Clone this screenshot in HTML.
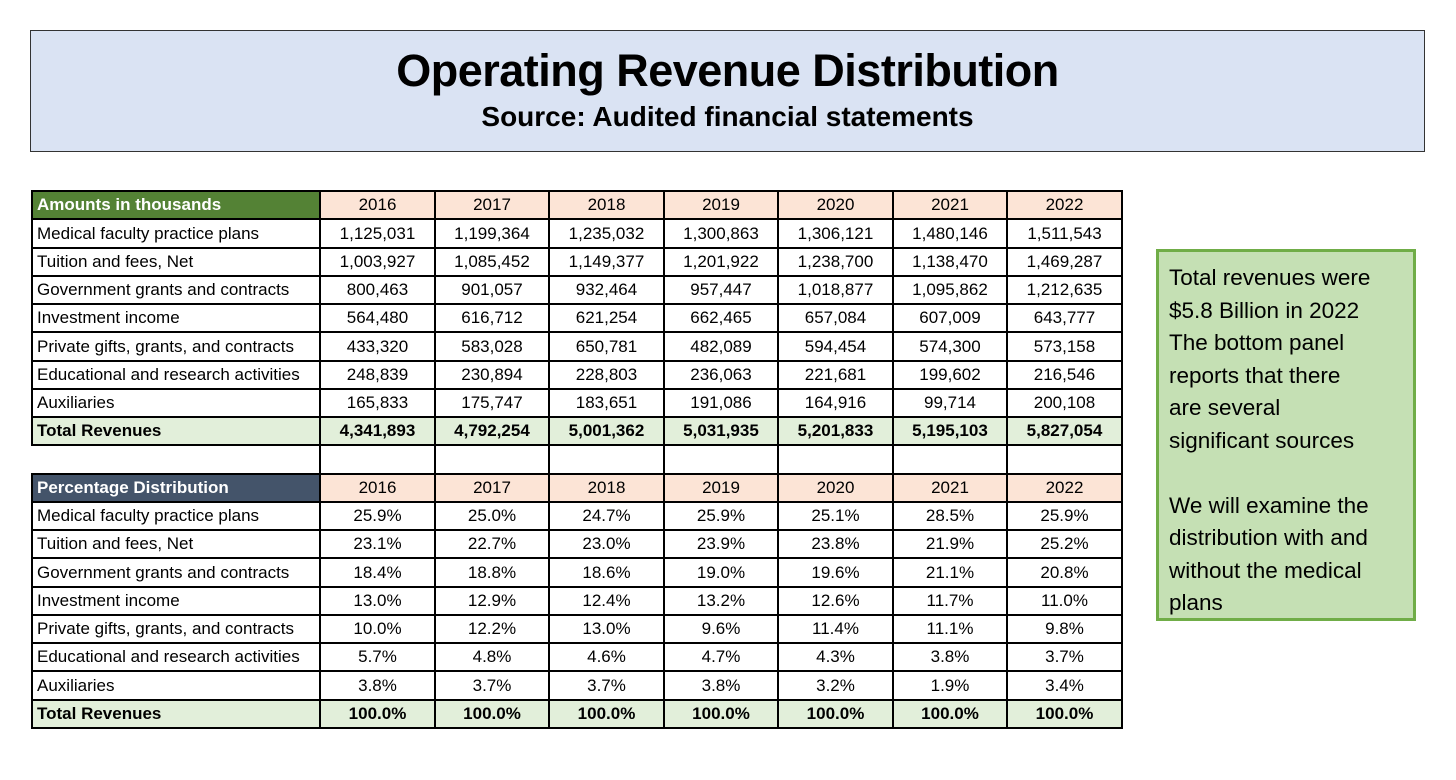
<!DOCTYPE html>
<html><head><meta charset="utf-8"><style>
body{margin:0;width:1456px;height:780px;background:#fff;position:relative;overflow:hidden;font-family:"Liberation Sans",sans-serif}
#title-box{position:absolute;left:30px;top:30px;width:1393px;height:120px;background:#dae3f3;border:1px solid #333;text-align:center}
#title-box h1{margin:14px 0 0;font-size:45px;font-weight:bold;letter-spacing:-0.5px}
#title-box h2{margin:4px 0 0;font-size:28px;font-weight:bold}
.c{position:absolute;box-sizing:border-box;border-right:2px solid #000;border-bottom:2px solid #000;font-size:17px;text-align:center;white-space:nowrap;overflow:hidden}
.l{text-align:left;padding-left:4px}
#note{position:absolute;left:1156px;top:249px;width:260px;height:372px;box-sizing:border-box;background:#c5e0b4;border:3px solid #70ad47;padding:10px 34px 10px 10px;font-size:22.5px;line-height:32.5px;color:#000}
</style></head><body>
<div id="title-box">
<h1>Operating Revenue Distribution</h1>
<h2>Source: Audited financial statements</h2>
</div>
<div id="tbl"></div>
<div id="note">Total revenues were $5.8 Billion in 2022 The bottom panel reports that there are several significant sources<br><br>We will examine the distribution with and without the medical plans</div>
<script>
const years=["2016","2017","2018","2019","2020","2021","2022"];
const categories=["Medical faculty practice plans","Tuition and fees, Net","Government grants and contracts","Investment income","Private gifts, grants, and contracts","Educational and research activities","Auxiliaries"];
const amounts=[
["1,125,031","1,199,364","1,235,032","1,300,863","1,306,121","1,480,146","1,511,543"],
["1,003,927","1,085,452","1,149,377","1,201,922","1,238,700","1,138,470","1,469,287"],
["800,463","901,057","932,464","957,447","1,018,877","1,095,862","1,212,635"],
["564,480","616,712","621,254","662,465","657,084","607,009","643,777"],
["433,320","583,028","650,781","482,089","594,454","574,300","573,158"],
["248,839","230,894","228,803","236,063","221,681","199,602","216,546"],
["165,833","175,747","183,651","191,086","164,916","99,714","200,108"]];
const totals=["4,341,893","4,792,254","5,001,362","5,031,935","5,201,833","5,195,103","5,827,054"];
const percents=[
["25.9%","25.0%","24.7%","25.9%","25.1%","28.5%","25.9%"],
["23.1%","22.7%","23.0%","23.9%","23.8%","21.9%","25.2%"],
["18.4%","18.8%","18.6%","19.0%","19.6%","21.1%","20.8%"],
["13.0%","12.9%","12.4%","13.2%","12.6%","11.7%","11.0%"],
["10.0%","12.2%","13.0%","9.6%","11.4%","11.1%","9.8%"],
["5.7%","4.8%","4.6%","4.7%","4.3%","3.8%","3.7%"],
["3.8%","3.7%","3.7%","3.8%","3.2%","1.9%","3.4%"]];
const pctTotals=["100.0%","100.0%","100.0%","100.0%","100.0%","100.0%","100.0%"];
const tbl=document.getElementById('tbl');
const X0=31,LW=290,CW=114.5,Y0=192,RH=28.26;
function colX(c){return Math.round(c<0?X0:X0+LW+c*CW);}
function rowY(r){return Math.round(Y0+r*RH);}
function cell(r,c,text,opts){
  const d=document.createElement('div');
  d.className='c'+(c<0?' l':'');
  const x=colX(c), x2=colX(c+1<0?0:c+1), y=rowY(r), y2=rowY(r+1);
  const top=opts.top?y-2:y;
  d.style.left=x+'px';d.style.top=top+'px';d.style.width=(x2-x)+'px';d.style.height=(y2-top)+'px';
  d.style.lineHeight=(y2-y-2)+'px';
  if(c<0&&!opts.noLeft)d.style.borderLeft='2px solid #000';
  if(opts.top)d.style.borderTop='2px solid #000';
  if(opts.bg)d.style.background=opts.bg;
  if(opts.color)d.style.color=opts.color;
  if(opts.bold)d.style.fontWeight='bold';
  d.textContent=text;
  
  
  tbl.appendChild(d);
}
function block(r0,head,headBg,rows,tots,pfx){
  cell(r0,-1,head,{top:true,bg:headBg,color:'#fff',bold:true,name:pfx+'-header-label'});
  years.forEach((y,j)=>cell(r0,j,y,{top:true,bg:'#fce4d6',name:pfx+'-year-'+y}));
  categories.forEach((cat,i)=>{
    cell(r0+1+i,-1,cat,{name:pfx+'-row-label'});
    rows[i].forEach((v,j)=>cell(r0+1+i,j,v,{name:pfx+'-value-cell'}));
  });
  const rt=r0+1+categories.length;
  cell(rt,-1,'Total Revenues',{bg:'#e2efda',bold:true,name:pfx+'-total-label'});
  tots.forEach((v,j)=>cell(rt,j,v,{bg:'#e2efda',bold:true,name:pfx+'-total-cell'}));
}
block(0,'Amounts in thousands','#548235',amounts,totals,'amount');
cell(9,-1,'',{noLeft:true,name:'blank-label'});
years.forEach((y,j)=>cell(9,j,'',{name:'blank-cell'}));
block(10,'Percentage Distribution','#44546a',percents,pctTotals,'percent');
</script>
</body></html>
